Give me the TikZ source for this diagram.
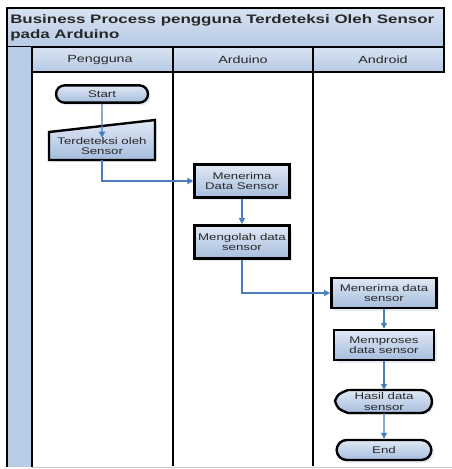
\documentclass[tikz,border=0pt]{standalone}
\usepackage{fontspec}
\setmainfont{Liberation Sans}
\newfontfamily\wideface[FakeStretch=1.38]{Liberation Sans}
\usetikzlibrary{shapes.misc,arrows.meta,shadows}

\definecolor{boxtop}{RGB}{224,232,244}
\definecolor{boxbot}{RGB}{166,189,222}
\definecolor{bandtop}{RGB}{216,227,241}
\definecolor{bandbot}{RGB}{182,201,228}
\definecolor{stripblue}{RGB}{184,204,230}
\definecolor{flowblue}{RGB}{74,126,187}
\definecolor{inkgray}{RGB}{40,40,40}

\begin{document}
\begin{tikzpicture}
[x=0.75pt,y=-0.75pt,
 lane/.style={line width=2pt},
 band/.style={lane,top color=bandtop,bottom color=bandbot},
 shade/.style={drop shadow={shadow xshift=2pt,shadow yshift=-2pt,fill=flowblue!30,opacity=0.5}},
 txt/.style={font=\wideface\fontsize{7.2}{7.8}\selectfont,text=inkgray,align=center},
 proc/.style={txt,draw,line width=1.8pt,top color=boxtop,bottom color=boxbot,shade,inner sep=1pt},
 term/.style={proc,rounded rectangle},
 flow/.style={-{Triangle[length=4.5pt,width=4.5pt]},flowblue,line width=1pt}]

\useasboundingbox (0,0) rectangle (452,469);

% pool title and lane headers
\draw[band] (7,8) rectangle (444,47);
\node[anchor=north west,align=left,inner sep=0pt,text=inkgray,
  font=\wideface\bfseries\fontsize{9.2}{10.8}\selectfont] (title) at (10,14.5)
  {Business Process pengguna Terdeteksi Oleh Sensor\\pada Arduino};
\fill[stripblue] (7,47) rectangle (32,467);
\draw[band] (32,47) rectangle (173,72);
\draw[band] (173,47) rectangle (313,72);
\draw[band] (313,47) rectangle (444,72);
\node[txt,font=\wideface\fontsize{7.8}{9}\selectfont] (hpengguna) at (100,59.5) {Pengguna};
\node[txt,font=\wideface\fontsize{7.8}{9}\selectfont] (harduino) at (243,59.5) {Arduino};
\node[txt,font=\wideface\fontsize{7.8}{9}\selectfont] (handroid) at (383,59.5) {Android};

% lane borders
\draw[lane] (7,8) -- (7,467);
\draw[lane] (32,47) -- (32,467);
\draw[lane] (173,47) -- (173,466);
\draw[lane] (313,47) -- (313,466);
\draw[gray!40,line width=0.8pt] (32,467.5) -- (452,467.5);

% Pengguna
\node[term,minimum width=71pt,minimum height=13pt] (start) at (102,94) {Start};
\fill[flowblue!30,opacity=0.5] (51,134) -- (157,122) -- (157,162) -- (51,162) -- cycle;
\draw[line width=1.8pt,top color=boxtop,bottom color=boxbot]
  (49,132) -- (155,120) -- (155,160) -- (49,160) -- cycle;
\node[txt,minimum width=79pt,minimum height=21pt,inner sep=1pt] (deteksi) at (102,146)
  {Terdeteksi oleh\\Sensor};

% Arduino
\node[proc,minimum width=71pt,minimum height=25pt] (terima) at (242,181)
  {Menerima\\Data Sensor};
\node[proc,minimum width=71pt,minimum height=25pt] (olah) at (242,242)
  {Mengolah data\\sensor};

% Android
\node[proc,minimum width=79pt,minimum height=22.5pt] (terimadata) at (384,293)
  {Menerima data\\sensor};
\node[proc,minimum width=75pt,minimum height=22.5pt] (proses) at (384,345)
  {Memproses\\data sensor};
\fill[flowblue!30,opacity=0.5] (337,403) .. controls (341,397) .. (349,392) -- (422,392)
  .. controls (438,392) and (438,415) .. (422,415) -- (349,415)
  .. controls (341,409) .. cycle;
\draw[line width=1.8pt,top color=boxtop,bottom color=boxbot]
  (335,401) .. controls (338,394) .. (348,390) -- (420,390)
  .. controls (436,390) and (436,413) .. (420,413) -- (348,413)
  .. controls (338,409) .. cycle;
\node[txt,minimum width=73pt,minimum height=17pt,inner sep=1pt] (hasil) at (384,401.5)
  {Hasil data\\sensor};
\node[term,minimum width=73pt,minimum height=15pt] (end) at (384,450) {End};

% flows
\draw[flow,shorten >=-4.5pt] (start) -- (deteksi.north);
\draw[flow] (deteksi.south) |- (terima.west);
\draw[flow] (terima) -- (olah);
\draw[flow] (olah.south) |- (terimadata.west);
\draw[flow] (terimadata) -- (proses);
\draw[flow] (proses) -- (hasil);
\draw[flow] (hasil) -- (end);
\end{tikzpicture}
\end{document}
